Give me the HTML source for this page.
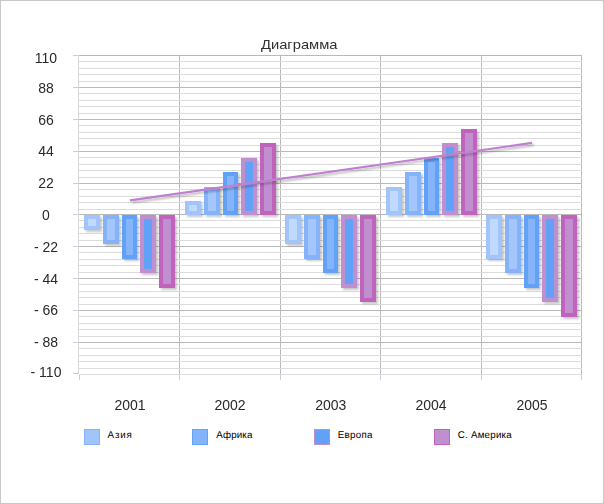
<!DOCTYPE html>
<html><head><meta charset="utf-8"><title>Диаграмма</title>
<style>html,body{margin:0;padding:0;background:#fff;}body{width:604px;height:504px;overflow:hidden;font-family:"Liberation Sans",sans-serif;}svg{display:block;}text{font-family:"Liberation Sans",sans-serif;}</style>
</head><body>
<svg width="604" height="504" viewBox="0 0 604 504">
<defs><filter id="sh" x="-20%" y="-20%" width="150%" height="150%"><feGaussianBlur in="SourceAlpha" stdDeviation="1"/><feOffset dx="2" dy="2"/><feComponentTransfer><feFuncA type="linear" slope="0.22"/></feComponentTransfer><feMerge><feMergeNode/><feMergeNode in="SourceGraphic"/></feMerge></filter><filter id="sh2" x="-5%" y="-20%" width="110%" height="150%"><feGaussianBlur in="SourceAlpha" stdDeviation="0.8"/><feOffset dx="1.5" dy="1.5"/><feComponentTransfer><feFuncA type="linear" slope="0.28"/></feComponentTransfer><feMerge><feMergeNode/><feMergeNode in="SourceGraphic"/></feMerge></filter></defs>
<rect x="0" y="0" width="604" height="504" fill="#ffffff"/>
<rect x="0.5" y="0.5" width="603" height="503" fill="none" stroke="#c8c8c8" stroke-width="1"/>
<g shape-rendering="crispEdges">
<rect x="78" y="55" width="1" height="319" fill="#d8d8d8"/>
<rect x="179" y="55" width="1" height="320" fill="#b9b9b9"/>
<rect x="280" y="55" width="1" height="320" fill="#b9b9b9"/>
<rect x="380" y="55" width="1" height="320" fill="#b9b9b9"/>
<rect x="481" y="55" width="1" height="320" fill="#b9b9b9"/>
<rect x="581" y="55" width="1" height="320" fill="#b9b9b9"/>
<rect x="79" y="55" width="503" height="1" fill="#b9b9b9"/>
<rect x="73" y="55" width="5" height="1" fill="#bdd0ea"/>
<rect x="79" y="61" width="503" height="1" fill="#dcdcdc"/>
<rect x="79" y="68" width="503" height="1" fill="#dcdcdc"/>
<rect x="79" y="74" width="503" height="1" fill="#dcdcdc"/>
<rect x="79" y="81" width="503" height="1" fill="#dcdcdc"/>
<rect x="79" y="87" width="503" height="1" fill="#b9b9b9"/>
<rect x="73" y="87" width="5" height="1" fill="#bdd0ea"/>
<rect x="79" y="93" width="503" height="1" fill="#dcdcdc"/>
<rect x="79" y="100" width="503" height="1" fill="#dcdcdc"/>
<rect x="79" y="106" width="503" height="1" fill="#dcdcdc"/>
<rect x="79" y="113" width="503" height="1" fill="#dcdcdc"/>
<rect x="79" y="119" width="503" height="1" fill="#b9b9b9"/>
<rect x="73" y="119" width="5" height="1" fill="#bdd0ea"/>
<rect x="79" y="125" width="503" height="1" fill="#dcdcdc"/>
<rect x="79" y="132" width="503" height="1" fill="#dcdcdc"/>
<rect x="79" y="138" width="503" height="1" fill="#dcdcdc"/>
<rect x="79" y="145" width="503" height="1" fill="#dcdcdc"/>
<rect x="79" y="151" width="503" height="1" fill="#b9b9b9"/>
<rect x="73" y="151" width="5" height="1" fill="#bdd0ea"/>
<rect x="79" y="157" width="503" height="1" fill="#dcdcdc"/>
<rect x="79" y="164" width="503" height="1" fill="#dcdcdc"/>
<rect x="79" y="170" width="503" height="1" fill="#dcdcdc"/>
<rect x="79" y="177" width="503" height="1" fill="#dcdcdc"/>
<rect x="79" y="183" width="503" height="1" fill="#b9b9b9"/>
<rect x="73" y="183" width="5" height="1" fill="#bdd0ea"/>
<rect x="79" y="189" width="503" height="1" fill="#dcdcdc"/>
<rect x="79" y="196" width="503" height="1" fill="#dcdcdc"/>
<rect x="79" y="202" width="503" height="1" fill="#dcdcdc"/>
<rect x="79" y="209" width="503" height="1" fill="#dcdcdc"/>
<rect x="79" y="214" width="503" height="1" fill="#b9b9b9"/>
<rect x="73" y="214" width="5" height="1" fill="#bdd0ea"/>
<rect x="79" y="220" width="503" height="1" fill="#dcdcdc"/>
<rect x="79" y="227" width="503" height="1" fill="#dcdcdc"/>
<rect x="79" y="233" width="503" height="1" fill="#dcdcdc"/>
<rect x="79" y="240" width="503" height="1" fill="#dcdcdc"/>
<rect x="79" y="246" width="503" height="1" fill="#b9b9b9"/>
<rect x="73" y="246" width="5" height="1" fill="#bdd0ea"/>
<rect x="79" y="252" width="503" height="1" fill="#dcdcdc"/>
<rect x="79" y="259" width="503" height="1" fill="#dcdcdc"/>
<rect x="79" y="265" width="503" height="1" fill="#dcdcdc"/>
<rect x="79" y="272" width="503" height="1" fill="#dcdcdc"/>
<rect x="79" y="278" width="503" height="1" fill="#b9b9b9"/>
<rect x="73" y="278" width="5" height="1" fill="#bdd0ea"/>
<rect x="79" y="284" width="503" height="1" fill="#dcdcdc"/>
<rect x="79" y="291" width="503" height="1" fill="#dcdcdc"/>
<rect x="79" y="297" width="503" height="1" fill="#dcdcdc"/>
<rect x="79" y="304" width="503" height="1" fill="#dcdcdc"/>
<rect x="79" y="310" width="503" height="1" fill="#b9b9b9"/>
<rect x="73" y="310" width="5" height="1" fill="#bdd0ea"/>
<rect x="79" y="316" width="503" height="1" fill="#dcdcdc"/>
<rect x="79" y="323" width="503" height="1" fill="#dcdcdc"/>
<rect x="79" y="329" width="503" height="1" fill="#dcdcdc"/>
<rect x="79" y="336" width="503" height="1" fill="#dcdcdc"/>
<rect x="79" y="342" width="503" height="1" fill="#b9b9b9"/>
<rect x="73" y="342" width="5" height="1" fill="#bdd0ea"/>
<rect x="79" y="348" width="503" height="1" fill="#dcdcdc"/>
<rect x="79" y="355" width="503" height="1" fill="#dcdcdc"/>
<rect x="79" y="361" width="503" height="1" fill="#dcdcdc"/>
<rect x="79" y="368" width="503" height="1" fill="#dcdcdc"/>
<rect x="79" y="374" width="503" height="1" fill="#dcdcdc"/>
<rect x="73" y="373" width="5" height="1" fill="#bdd0ea"/>
<rect x="79" y="375" width="1" height="5" fill="#bdd0ea"/>
<rect x="179" y="375" width="1" height="5" fill="#bdd0ea"/>
<rect x="280" y="375" width="1" height="5" fill="#bdd0ea"/>
<rect x="380" y="375" width="1" height="5" fill="#bdd0ea"/>
<rect x="481" y="375" width="1" height="5" fill="#bdd0ea"/>
<rect x="581" y="375" width="1" height="5" fill="#bdd0ea"/>
</g>
<g filter="url(#sh)" shape-rendering="crispEdges">
<rect x="84" y="215" width="16" height="15" fill="#a1c4fa"/>
<rect x="88" y="219" width="8" height="7" fill="#c1d9fc"/>
<rect x="103" y="215" width="16" height="29" fill="#85b3f9"/>
<rect x="107" y="219" width="8" height="21" fill="#a5c6fa"/>
<rect x="122" y="215" width="15" height="44" fill="#62a1f8"/>
<rect x="126" y="219" width="7" height="36" fill="#86b4f9"/>
<rect x="140" y="215" width="16" height="58" fill="#c08fd0"/>
<rect x="144" y="219" width="8" height="50" fill="#62a1f8"/>
<rect x="159" y="215" width="16" height="73" fill="#c064bd"/>
<rect x="163" y="219" width="8" height="65" fill="#c08fd0"/>
<rect x="185" y="201" width="16" height="14" fill="#a1c4fa"/>
<rect x="189" y="205" width="8" height="6" fill="#c1d9fc"/>
<rect x="204" y="187" width="16" height="28" fill="#85b3f9"/>
<rect x="208" y="191" width="8" height="20" fill="#a5c6fa"/>
<rect x="223" y="172" width="15" height="43" fill="#62a1f8"/>
<rect x="227" y="176" width="7" height="35" fill="#86b4f9"/>
<rect x="241" y="158" width="16" height="57" fill="#c08fd0"/>
<rect x="245" y="162" width="8" height="49" fill="#62a1f8"/>
<rect x="260" y="143" width="16" height="72" fill="#c064bd"/>
<rect x="264" y="147" width="8" height="64" fill="#c08fd0"/>
<rect x="285" y="215" width="16" height="29" fill="#a1c4fa"/>
<rect x="289" y="219" width="8" height="21" fill="#c1d9fc"/>
<rect x="304" y="215" width="16" height="44" fill="#85b3f9"/>
<rect x="308" y="219" width="8" height="36" fill="#a5c6fa"/>
<rect x="323" y="215" width="15" height="58" fill="#62a1f8"/>
<rect x="327" y="219" width="7" height="50" fill="#86b4f9"/>
<rect x="341" y="215" width="16" height="73" fill="#c08fd0"/>
<rect x="345" y="219" width="8" height="65" fill="#62a1f8"/>
<rect x="360" y="215" width="16" height="87" fill="#c064bd"/>
<rect x="364" y="219" width="8" height="79" fill="#c08fd0"/>
<rect x="386" y="187" width="16" height="28" fill="#a1c4fa"/>
<rect x="390" y="191" width="8" height="20" fill="#c1d9fc"/>
<rect x="405" y="172" width="16" height="43" fill="#85b3f9"/>
<rect x="409" y="176" width="8" height="35" fill="#a5c6fa"/>
<rect x="424" y="158" width="15" height="57" fill="#62a1f8"/>
<rect x="428" y="162" width="7" height="49" fill="#86b4f9"/>
<rect x="442" y="143" width="16" height="72" fill="#c08fd0"/>
<rect x="446" y="147" width="8" height="64" fill="#62a1f8"/>
<rect x="461" y="129" width="16" height="86" fill="#c064bd"/>
<rect x="465" y="133" width="8" height="78" fill="#c08fd0"/>
<rect x="486" y="215" width="16" height="44" fill="#a1c4fa"/>
<rect x="490" y="219" width="8" height="36" fill="#c1d9fc"/>
<rect x="505" y="215" width="16" height="58" fill="#85b3f9"/>
<rect x="509" y="219" width="8" height="50" fill="#a5c6fa"/>
<rect x="524" y="215" width="15" height="73" fill="#62a1f8"/>
<rect x="528" y="219" width="7" height="65" fill="#86b4f9"/>
<rect x="542" y="215" width="16" height="87" fill="#c08fd0"/>
<rect x="546" y="219" width="8" height="79" fill="#62a1f8"/>
<rect x="561" y="215" width="16" height="102" fill="#c064bd"/>
<rect x="565" y="219" width="8" height="94" fill="#c08fd0"/>
</g>
<line x1="130" y1="200.4" x2="532" y2="142.9" stroke="#c080d0" stroke-width="2.2" filter="url(#sh2)"/>
<g opacity="0.99">
<text x="46" y="63" font-size="14" fill="#262626" text-anchor="middle">110</text>
<text x="46" y="93" font-size="14" fill="#262626" text-anchor="middle">88</text>
<text x="46" y="125" font-size="14" fill="#262626" text-anchor="middle">66</text>
<text x="46" y="156" font-size="14" fill="#262626" text-anchor="middle">44</text>
<text x="46" y="188" font-size="14" fill="#262626" text-anchor="middle">22</text>
<text x="46" y="220" font-size="14" fill="#262626" text-anchor="middle">0</text>
<text x="46" y="252" font-size="14" fill="#262626" text-anchor="middle">- 22</text>
<text x="46" y="284" font-size="14" fill="#262626" text-anchor="middle">- 44</text>
<text x="46" y="315" font-size="14" fill="#262626" text-anchor="middle">- 66</text>
<text x="46" y="347" font-size="14" fill="#262626" text-anchor="middle">- 88</text>
<text x="46" y="377" font-size="14" fill="#262626" text-anchor="middle">- 110</text>
<text x="130.0" y="410" font-size="14" fill="#262626" text-anchor="middle">2001</text>
<text x="230.0" y="410" font-size="14" fill="#262626" text-anchor="middle">2002</text>
<text x="330.8" y="410" font-size="14" fill="#262626" text-anchor="middle">2003</text>
<text x="431.0" y="410" font-size="14" fill="#262626" text-anchor="middle">2004</text>
<text x="532.0" y="410" font-size="14" fill="#262626" text-anchor="middle">2005</text>
</g>
<g opacity="0.99"><text x="261" y="48.8" font-size="13.6" fill="#2e2e2e" textLength="76.5" lengthAdjust="spacingAndGlyphs">Диаграмма</text></g>
<rect x="84.5" y="429.5" width="15" height="15" fill="#a1c4fa" stroke="#85b3f9" stroke-width="1" shape-rendering="crispEdges"/>
<g transform="translate(107.6,438) skewX(0.05)"><text x="0" y="0" font-size="9.8" letter-spacing="0.80" fill="#000">Азия</text></g>
<rect x="192.5" y="429.5" width="15" height="15" fill="#85b3f9" stroke="#62a1f8" stroke-width="1" shape-rendering="crispEdges"/>
<g transform="translate(216.2,438) skewX(0.05)"><text x="0" y="0" font-size="9.8" letter-spacing="0.12" fill="#000">Африка</text></g>
<rect x="314.5" y="429.5" width="15" height="15" fill="#62a1f8" stroke="#c08fd0" stroke-width="1" shape-rendering="crispEdges"/>
<g transform="translate(337.8,438) skewX(0.05)"><text x="0" y="0" font-size="9.8" letter-spacing="0.24" fill="#000">Европа</text></g>
<rect x="434.5" y="429.5" width="15" height="15" fill="#c08fd0" stroke="#c064bd" stroke-width="1" shape-rendering="crispEdges"/>
<g transform="translate(457.8,438) skewX(0.05)"><text x="0" y="0" font-size="9.8" letter-spacing="0.20" fill="#000">С. Америка</text></g>
</svg>
</body></html>
